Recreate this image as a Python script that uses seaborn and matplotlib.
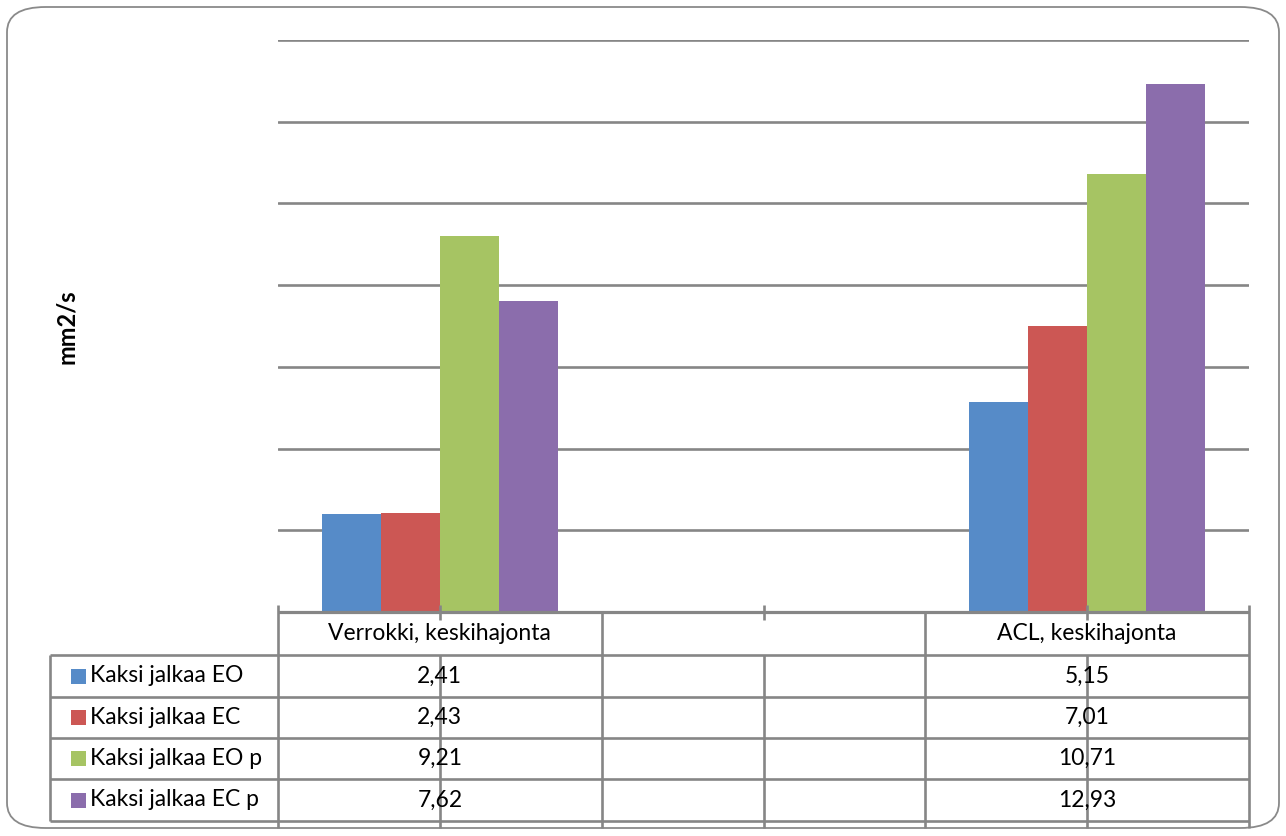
import matplotlib
matplotlib.use("Agg")
import matplotlib.pyplot as plt
import matplotlib.transforms as mtransforms
from matplotlib.patches import FancyBboxPatch, Rectangle
import pandas as pd
import seaborn as sns

# ---- data -------------------------------------------------------------
categories = ["Verrokki, keskihajonta", " ", "ACL, keskihajonta"]
series = ["Kaksi jalkaa EO", "Kaksi jalkaa EC", "Kaksi jalkaa EO p", "Kaksi jalkaa EC p"]
verrokki = [2.41, 2.43, 9.21, 7.62]
acl = [5.15, 7.01, 10.71, 12.93]
y_ticks = [0, 2, 4, 6, 8, 10, 12, 14]
y_label = "mm2/s"
colors = ["#568BC8", "#CC5754", "#A6C463", "#8B6DAC"]

rows = []
for s, v in zip(series, verrokki):
    rows.append({"group": categories[0], "series": s, "value": v})
for s, v in zip(series, acl):
    rows.append({"group": categories[2], "series": s, "value": v})
df = pd.DataFrame(rows)

# ---- figure -----------------------------------------------------------
sns.set_theme(style="white")
plt.rcParams["font.family"] = ["Lato", "DejaVu Sans"]

W, H = 1286, 836
fig = plt.figure(figsize=(W / 100, H / 100), dpi=100)
fig.patch.set_facecolor("white")

# plot area in pixel terms
px_left, px_right, px_top, px_base = 278, 1249, 40, 612
ax = fig.add_axes([px_left / W, 1 - px_base / H,
                   (px_right - px_left) / W, (px_base - px_top) / H])

sns.barplot(data=df, x="group", y="value", hue="series",
            order=categories, hue_order=series, palette=colors,
            width=0.73, saturation=1, legend=False, edgecolor="none",
            linewidth=0, ax=ax)

ax.set_xlim(-0.5, 2.5)
ax.set_ylim(y_ticks[0], y_ticks[-1])
ax.set_yticks(y_ticks)
ax.set_yticklabels([])
ax.set_xticks([])
ax.set_xlabel("")
ax.set_ylabel("")
ax.tick_params(left=False, bottom=False)
for sp in ax.spines.values():
    sp.set_visible(False)

grid_c = "#868686"
lw = 1.9
ax.yaxis.grid(True, color=grid_c, linewidth=lw)
ax.set_axisbelow(True)

# ---- data table beneath the axis --------------------------------------
ax_h = px_base - px_top
ax_w = px_right - px_left


def fy(y):
    """pixel row -> axes fraction"""
    return (px_base - y) / ax_h


def fx(x):
    """pixel column -> axes fraction"""
    return (x - px_left) / ax_w


trans_x = mtransforms.blended_transform_factory(ax.transData, ax.transAxes)


def hline(x0, x1, y, width=lw):
    ax.plot([fx(x0), fx(x1)], [fy(y), fy(y)], color=grid_c, lw=width,
            transform=ax.transAxes, clip_on=False, solid_capstyle="butt")


def vline_px(x, y0, y1):
    ax.plot([fx(x), fx(x)], [fy(y0), fy(y1)], color=grid_c, lw=lw,
            transform=ax.transAxes, clip_on=False, solid_capstyle="butt")


def vline_data(xd, y0, y1):
    ax.plot([xd, xd], [fy(y0), fy(y1)], color=grid_c, lw=lw,
            transform=trans_x, clip_on=False, solid_capstyle="butt")


row_edges = [655, 697, 738, 779, 821]
hline(px_left, px_right, px_base, width=2.3)
for y in row_edges:
    hline(50, px_right, y)
vline_px(50, 655, 821)

# column borders between categories
for b in [-0.5, 0.5, 1.5, 2.5]:
    vline_data(b, 605 if b in (-0.5, 2.5) else 612, 828)
# category marks through the body rows
for c in range(len(categories)):
    vline_data(c, 605, 620)
    vline_data(c, 655, 828)

fs = 16.5
header_y = (px_base + row_edges[0]) / 2
for i, cat in enumerate(categories):
    ax.text(i, fy(header_y), cat.strip(), transform=trans_x, ha="center",
            va="center", fontsize=fs, color="black", clip_on=False)

values_by_cat = {0: verrokki, 2: acl}
for r, s in enumerate(series):
    yc = (row_edges[r] + row_edges[r + 1]) / 2
    ax.add_patch(Rectangle((fx(71), fy(yc + 7.5)), fx(86) - fx(71), fy(yc - 7.5) - fy(yc + 7.5),
                           transform=ax.transAxes, facecolor=colors[r],
                           edgecolor="none", clip_on=False))
    ax.text(fx(90), fy(yc), s, transform=ax.transAxes, ha="left", va="center",
            fontsize=fs, color="black", clip_on=False)
    for c, vals in values_by_cat.items():
        ax.text(c, fy(yc), f"{vals[r]:.2f}".replace(".", ","), transform=trans_x,
                ha="center", va="center", fontsize=fs, color="black", clip_on=False)

# y-axis title
fig.text(67 / W, 1 - 327 / H, y_label, rotation=90, ha="center", va="center",
         fontsize=17, fontweight="bold", color="black")

# rounded chart frame
frame = FancyBboxPatch((7 / W, 1 - 828 / H), (1279 - 7) / W, (828 - 7) / H,
                       boxstyle="round,pad=0,rounding_size=0.03",
                       transform=fig.transFigure, facecolor="none",
                       edgecolor="#8a8a8a", linewidth=1.3, zorder=-1)
fig.patches.append(frame)

fig.savefig("out.png", dpi=100, facecolor="white")
